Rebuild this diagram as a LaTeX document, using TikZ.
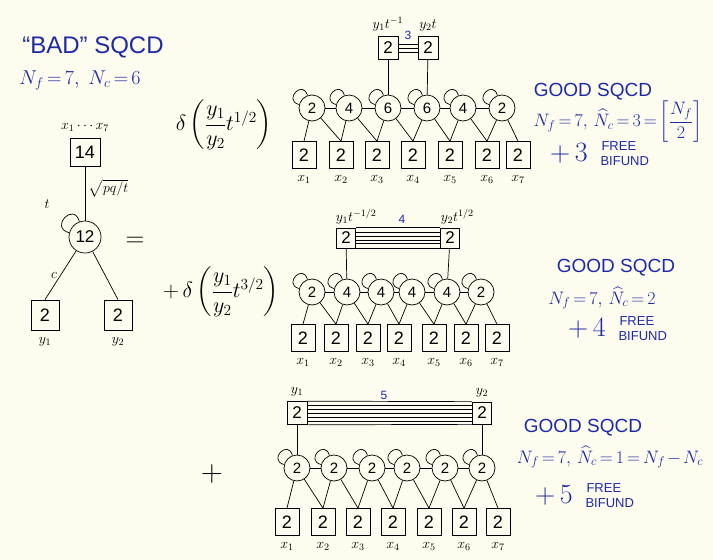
\RequirePackage{fix-cm}
\documentclass[tikz,border=0pt]{standalone}
\usepackage{amsmath}
\usepackage{fontspec}
\setmainfont{Liberation Sans}
\usepackage{tikz}
\usetikzlibrary{positioning}
\usepackage{xcolor}
\definecolor{inkblue}{RGB}{28,42,168}
\definecolor{paper}{RGB}{254,252,238}
\tikzset{
    gauge/.style={draw, circle, minimum size=26pt, inner sep=0pt, font=\fontsize{15}{15}\selectfont},
    flavour/.style={draw, rectangle, minimum width=24pt, minimum height=27pt, inner sep=0pt, font=\fontsize{18}{18}\selectfont},
    edgebox/.style={draw, rectangle, minimum width=20pt, minimum height=23pt, inner sep=0pt, font=\fontsize{17}{17}\selectfont},
    ink/.style={text=inkblue, font=\fontsize{19}{21}\selectfont,
        execute at begin node={\thickmuskip=3mu\medmuskip=2mu}},
    freebif/.style={text=inkblue, font=\fontsize{13}{13}\selectfont, inner sep=0pt},
    bignum/.style={text=inkblue, font=\fontsize{28}{28}\selectfont, inner sep=1pt},
    fug/.style={font=\fontsize{14}{14}\selectfont},
    delt/.style={font=\fontsize{22}{24}\selectfont}
}

\begin{document}
\begin{tikzpicture}[x=1pt, y=1pt, line width=0.7pt]
    \fill[paper] (0,0) rectangle (713,-560);
    \useasboundingbox (0,0) rectangle (713,-560);

    % bad SQCD on the left
    \node[ink, font=\fontsize{24}{26}\selectfont] (bad) at (93,-47) {“BAD” SQCD};
    \node[ink, font=\fontsize{20}{22}\selectfont] (badn) at (80,-81) {$N_f=7,\ N_c=6$};
    \node[flavour, minimum width=30pt, minimum height=28pt] (b14) at (85,-152) {14};
    \node[fug, above=2pt of b14] (bx) {$x_1\cdots x_7$};
    \node[gauge, minimum size=32pt, font=\fontsize{17}{17}\selectfont] (c12) at (85,-237) {12};
    \node[flavour, minimum width=28pt, minimum height=30pt] (ya) at (45,-315) {2};
    \node[flavour, minimum width=28pt, minimum height=30pt] (yb) at (118,-315) {2};
    \node[fug, below=3pt of ya] (yal) {$y_1$};
    \node[fug, below=3pt of yb] (ybl) {$y_2$};
    \draw (b14) -- node[fug, right, pos=0.4] {$\sqrt{pq/t}$} (c12);
    \draw (c12.165) .. controls +(165:21) and +(105:21) .. (c12.110);
    \node[fug] (tl) at (47,-204) {$t$};
    \draw (c12) -- node[fug, left, pos=0.5] {$c$} (ya.north);
    \draw (c12) -- (yb.north);
    \node[font=\fontsize{26}{26}\selectfont] (eq) at (135,-242) {$=$};

    % first term
    \node[delt] (da) at (224,-125) {$\delta\left(\dfrac{y_1}{y_2}t^{1/2}\right)$};
    \foreach \x/\n [count=\i] in {312/2,349/4,388/6,427/6,463/4,502/2}
        \node[gauge] (ag\i) at (\x,-108) {\n};
    \foreach \x [count=\i] in {304,341,377,413,450,487,518} {
        \node[flavour] (af\i) at (\x,-155) {2};
        \node[fug, below=3pt of af\i] {$x_{\i}$};
    }
    \node[edgebox] (at1) at (388,-48) {2};
    \node[edgebox] (at2) at (428,-48) {2};
    \node[fug, above=1pt of at1] (atl1) {$y_1t^{-1}$};
    \node[fug, above=1pt of at2] (atl2) {$y_2t$};
    \foreach \d in {-4,0,4}
        \draw ([yshift=\d pt]at1.east) -- ([yshift=\d pt]at2.west);
    \node[text=inkblue, font=\fontsize{12}{12}\selectfont] (an) at (408,-35) {3};
    \draw (at1) -- (ag3);
    \draw (at2) -- (ag4);
    \node[ink] (gooda) at (593,-92) {GOOD SQCD};
    \node[ink, font=\fontsize{18}{20}\selectfont] (nca) at (618,-122) {$N_f=7,\,\widehat{N}_c=3=\left[\dfrac{N_f}{2}\right]$};
    \node[bignum] (pa) at (569,-153) {$+\,3$};
    \node[freebif, anchor=south west] (fa1) at ([xshift=12pt, yshift=2pt]pa.east) {FREE};
    \node[freebif, anchor=north west] (fa2) at ([xshift=11pt, yshift=-3pt]pa.east) {BIFUND};

    % second term
    \node[delt] (db) at (221,-292) {$+\,\delta\left(\dfrac{y_1}{y_2}t^{3/2}\right)$};
    \foreach \x/\n [count=\i] in {312/2,347/4,381/4,412/4,447/4,481/2}
        \node[gauge] (bg\i) at (\x,-292) {\n};
    \foreach \x [count=\i] in {303,336,368,399,434,466,497} {
        \node[flavour] (bf\i) at (\x,-338) {2};
        \node[fug, below=3pt of bf\i] {$x_{\i}$};
    }
    \node[edgebox, minimum width=19pt, minimum height=20pt] (bt1) at (346,-238) {2};
    \node[edgebox, minimum width=19pt, minimum height=20pt] (bt2) at (450,-238) {2};
    \node[fug, anchor=south west] (btl1) at ([xshift=-4pt]bt1.north west) {$y_1t^{-1/2}$};
    \node[fug, anchor=south west] (btl2) at ([xshift=-3pt]bt2.north west) {$y_2t^{1/2}$};
    \draw (bt1.north east) -- (bt2.north west);
    \draw (bt1.south east) -- (bt2.south west);
    \foreach \d in {-5.5,-2,2,5.5}
        \draw ([yshift=\d pt]bt1.east) -- ([yshift=\d pt]bt2.west);
    \node[text=inkblue, font=\fontsize{12}{12}\selectfont] (bn) at (402,-219) {4};
    \draw (bt1) -- (bg2);
    \draw (bt2) -- (bg5);
    \node[ink] (goodb) at (616,-268) {GOOD SQCD};
    \node[ink, font=\fontsize{18}{20}\selectfont] (ncb) at (602,-298) {$N_f=7,\,\widehat{N}_c=2$};
    \node[bignum] (pb) at (587,-328) {$+\,4$};
    \node[freebif, anchor=south west] (fb1) at ([xshift=12pt, yshift=2pt]pb.east) {FREE};
    \node[freebif, anchor=north west] (fb2) at ([xshift=11pt, yshift=-3pt]pb.east) {BIFUND};

    % third term
    \node[font=\fontsize{30}{30}\selectfont] (dc) at (212,-474) {$+$};
    \foreach \x [count=\i] in {297,334,372,407,445,482}
        \node[gauge] (cg\i) at (\x,-468) {2};
    \foreach \x [count=\i] in {287,323,358,393,429,464,498} {
        \node[flavour] (cf\i) at (\x,-522) {2};
        \node[fug, below=3pt of cf\i] {$x_{\i}$};
    }
    \node[edgebox] (ct1) at (297,-413) {2};
    \node[edgebox, minimum width=19pt, minimum height=22pt] (ct2) at (482,-413) {2};
    \node[fug, above=1pt of ct1] (ctl1) {$y_1$};
    \node[fug, above=1pt of ct2] (ctl2) {$y_2$};
    \draw (ct1.north east) -- (ct2.north west);
    \draw (ct1.south east) -- (ct2.south west);
    \foreach \d in {-8,-4,0,4,8}
        \draw ([yshift=\d pt]ct1.east) -- ([yshift=\d pt]ct2.west);
    \node[text=inkblue, font=\fontsize{12}{12}\selectfont] (cn) at (384,-395) {5};
    \draw (ct1) -- (cg1);
    \draw (ct2) -- (cg6);
    \node[ink] (goodc) at (583,-428) {GOOD SQCD};
    \node[ink, font=\fontsize{18}{20}\selectfont] (ncc) at (610,-457) {$N_f=7,\,\widehat{N}_c=1=N_f-N_c$};
    \node[bignum] (pc) at (554,-495) {$+\,5$};
    \node[freebif, anchor=south west] (fc1) at ([xshift=12pt, yshift=2pt]pc.east) {FREE};
    \node[freebif, anchor=north west] (fc2) at ([xshift=11pt, yshift=-3pt]pc.east) {BIFUND};

    % gauge links, flavour legs and adjoint loops
    \foreach \p in {a,b,c} {
        \foreach \i [count=\j from 2] in {1,...,6} {
            \draw (\p g\i) -- (\p f\i.north);
            \draw (\p g\i) -- (\p f\j.north);
            \draw (\p g\i.165) .. controls +(165:17) and +(105:17) .. (\p g\i.110);
        }
        \foreach \i [count=\j from 2] in {1,...,5}
            \draw (\p g\i) -- (\p g\j);
    }
\end{tikzpicture}
\end{document}
